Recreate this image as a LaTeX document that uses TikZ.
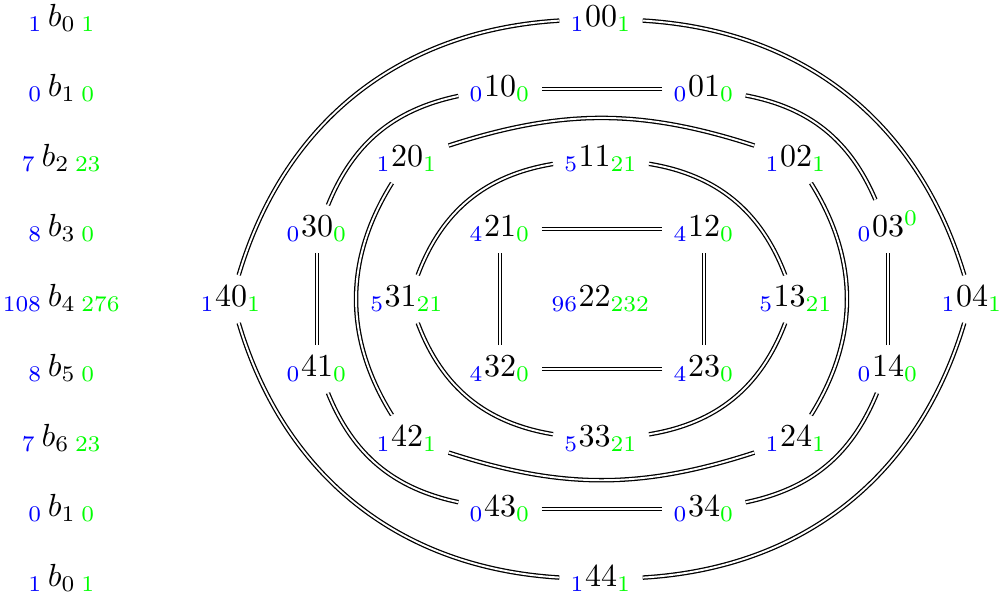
\documentclass[tikz,border=0pt]{standalone}
\usepackage{xcolor}
\newcommand\nl[3]{${}_{\color{blue}#1}#2_{\color{green}#3}$}
\newcommand\bl[3]{${}_{\color{blue}#1}\,b_{#2}\,{}_{\color{green}#3}$}
\begin{document}
\begin{tikzpicture}[x=0.3125pt,y=0.3125pt,
  v/.style={inner sep=3.333pt, anchor=base},
  dl/.style={double, line width=0.4pt, double distance=0.6pt}]
\useasboundingbox (0,0) rectangle (1000,595);
% left labels
\node[v] (b0a) at (62,568) {\bl{1}{0}{1}};
\node[v] (b1a) at (62,498) {\bl{0}{1}{0}};
\node[v] (b2) at (62,428) {\bl{7}{2}{23}};
\node[v] (b3) at (62,358) {\bl{8}{3}{0}};
\node[v] (b4) at (62,288) {\bl{108}{4}{276}};
\node[v] (b5) at (62,218) {\bl{8}{5}{0}};
\node[v] (b6) at (62,148) {\bl{7}{6}{23}};
\node[v] (b1b) at (62,78) {\bl{0}{1}{0}};
\node[v] (b0b) at (62,8) {\bl{1}{0}{1}};
% grid
\node[v] (n00) at (601,568) {\nl{1}{00}{1}};
\node[v] (n10) at (500,498) {\nl{0}{10}{0}};
\node[v] (n01) at (704,498) {\nl{0}{01}{0}};
\node[v] (n20) at (407,428) {\nl{1}{20}{1}};
\node[v] (n11) at (601,428) {\nl{5}{11}{21}};
\node[v] (n02) at (796,428) {\nl{1}{02}{1}};
\node[v] (n30) at (317,358) {\nl{0}{30}{0}};
\node[v] (n21) at (500,358) {\nl{4}{21}{0}};
\node[v] (n12) at (704,358) {\nl{4}{12}{0}};
\node[v] (n03) at (888,358) {${}_{\color{blue}0}03^{\color{green}0}$};
\node[v] (n40) at (231,288) {\nl{1}{40}{1}};
\node[v] (n31) at (407,288) {\nl{5}{31}{21}};
\node[v] (n22) at (601,288) {\nl{96}{22}{232}};
\node[v] (n13) at (796,288) {\nl{5}{13}{21}};
\node[v] (n04) at (972,288) {\nl{1}{04}{1}};
\node[v] (n41) at (317,218) {\nl{0}{41}{0}};
\node[v] (n32) at (500,218) {\nl{4}{32}{0}};
\node[v] (n23) at (704,218) {\nl{4}{23}{0}};
\node[v] (n14) at (888,218) {\nl{0}{14}{0}};
\node[v] (n42) at (407,148) {\nl{1}{42}{1}};
\node[v] (n33) at (601,148) {\nl{5}{33}{21}};
\node[v] (n24) at (796,148) {\nl{1}{24}{1}};
\node[v] (n43) at (500,78) {\nl{0}{43}{0}};
\node[v] (n34) at (704,78) {\nl{0}{34}{0}};
\node[v] (n44) at (601,8) {\nl{1}{44}{1}};
% outer ring
\draw[dl] (n00) to[bend right=35] (n40);
\draw[dl] (n40) to[bend right=35] (n44);
\draw[dl] (n44) to[bend right=35] (n04);
\draw[dl] (n04) to[bend right=35] (n00);
% second ring
\draw[dl] (n10) to[bend right=28] (n30);
\draw[dl] (n30) -- (n41);
\draw[dl] (n41) to[bend right=28] (n43);
\draw[dl] (n43) -- (n34);
\draw[dl] (n34) to[bend right=28] (n14);
\draw[dl] (n14) -- (n03);
\draw[dl] (n03) to[bend right=28] (n01);
\draw[dl] (n01) -- (n10);
% third ring
\draw[dl] (n20) to[bend right=32] (n42);
\draw[dl] (n42) to[bend right=18] (n24);
\draw[dl] (n24) to[bend right=32] (n02);
\draw[dl] (n02) to[bend right=18] (n20);
% fourth ring
\draw[dl] (n11) to[bend right=30] (n31);
\draw[dl] (n31) to[bend right=30] (n33);
\draw[dl] (n33) to[bend right=30] (n13);
\draw[dl] (n13) to[bend right=30] (n11);
% inner square
\draw[dl] (n21) -- (n12);
\draw[dl] (n12) -- (n23);
\draw[dl] (n23) -- (n32);
\draw[dl] (n32) -- (n21);
\end{tikzpicture}
\end{document}
